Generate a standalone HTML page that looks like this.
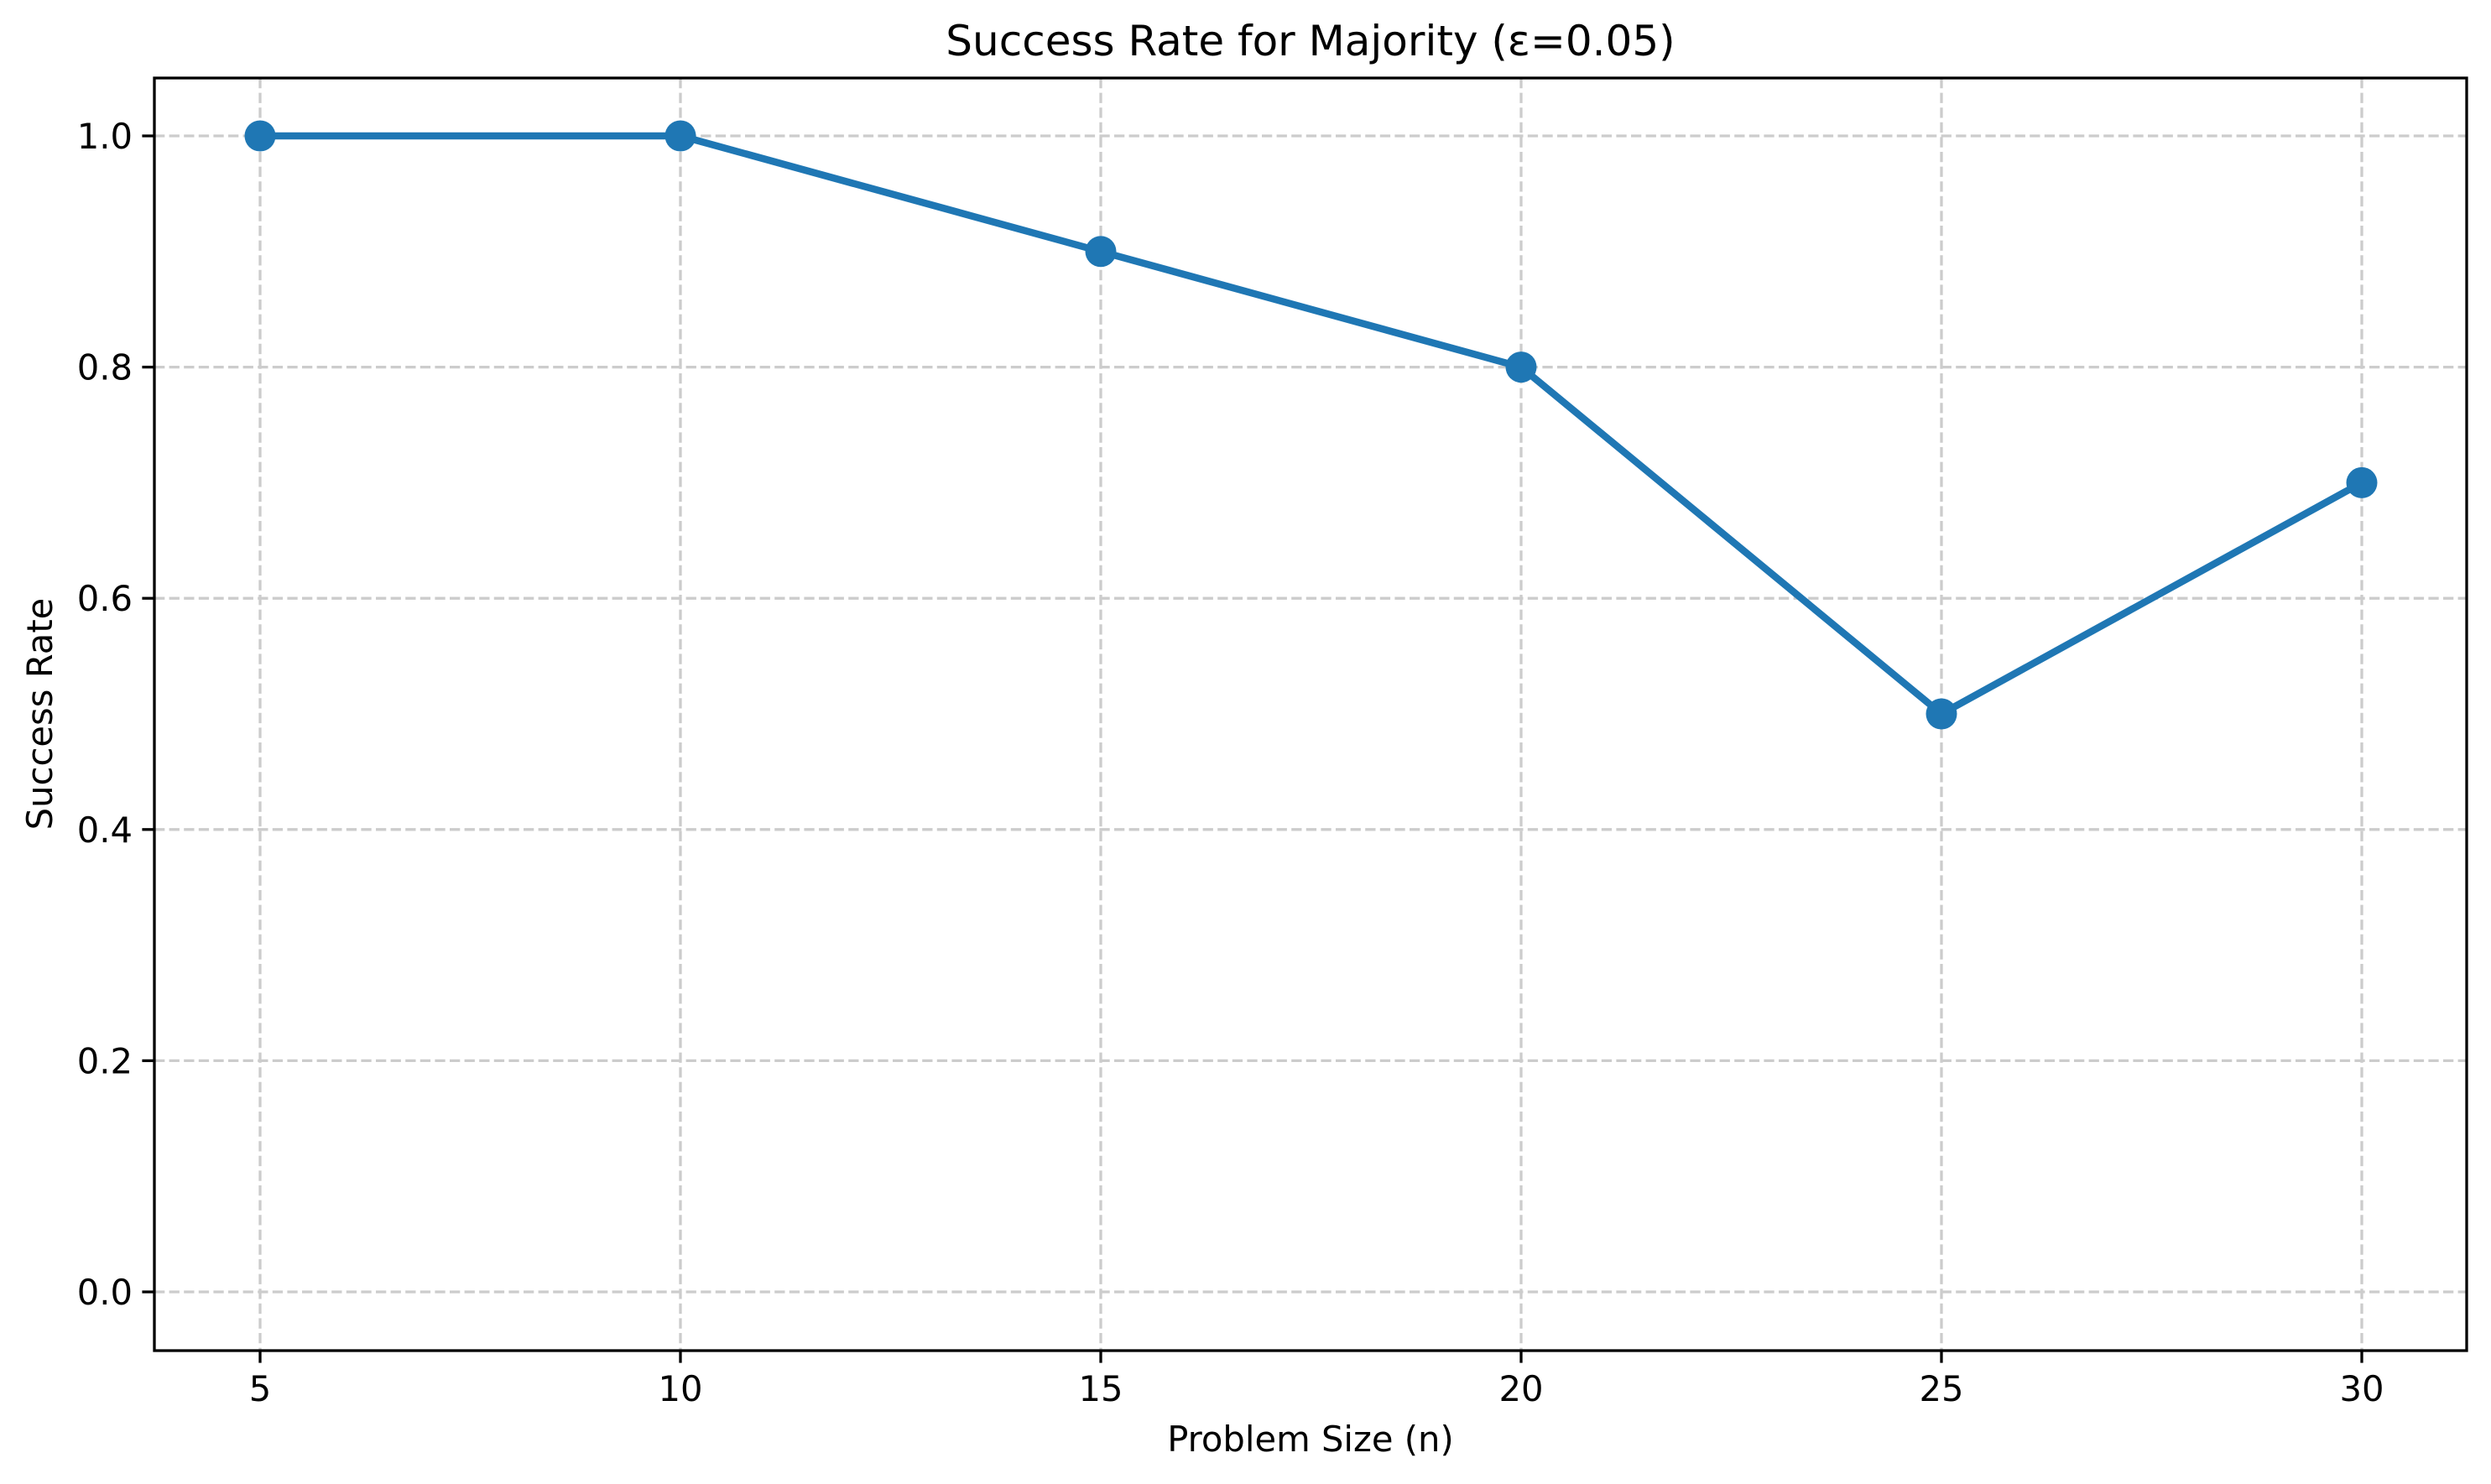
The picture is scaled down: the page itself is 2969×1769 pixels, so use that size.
<!DOCTYPE html>
<html><head><meta charset="utf-8"><style>
html,body{margin:0;padding:0;background:#fff;}
svg{display:block;font-family:"DejaVu Sans","Liberation Sans",sans-serif;}
</style></head><body>
<svg id="chart" width="2969" height="1769" viewBox="0 0 2969 1769">
<rect x="0" y="0" width="2969" height="1769" fill="#fff"/>
<g id="grid"></g>
<g id="series"></g>
<g id="axes"></g>
<text x="1562" y="66" font-size="50" text-anchor="middle">Success Rate for Majority (ε=0.05)</text>
<text x="1562" y="1730" font-size="41.7" text-anchor="middle">Problem Size (n)</text>
<text x="0" y="0" font-size="41.7" text-anchor="middle" transform="translate(62,851) rotate(-90)">Success Rate</text>
</svg>
<script>
const categories = [5, 10, 15, 20, 25, 30];
const successRates = [1.0, 1.0, 0.9, 0.8, 0.5, 0.7];
const xTicks = [5, 10, 15, 20, 25, 30];
const yTicks = [0.0, 0.2, 0.4, 0.6, 0.8, 1.0];
const yTickLabels = ["0.0", "0.2", "0.4", "0.6", "0.8", "1.0"];

const L = 184, R = 2940, T = 93, B = 1610;
function xs(v){ return 310 + (v - 5) * (2815 - 310) / 25; }
function ys(v){ return 1540 - v * (1540 - 162); }
const NS = "http://www.w3.org/2000/svg";
function mk(tag, attrs, parent){
  const e = document.createElementNS(NS, tag);
  for (const k in attrs) e.setAttribute(k, attrs[k]);
  parent.appendChild(e);
  return e;
}
const grid = document.getElementById('grid');
const series = document.getElementById('series');
const axes = document.getElementById('axes');

xTicks.forEach(function(t){
  const x = xs(t);
  const g = mk('line', {x1:x, x2:x, y1:T, y2:B, stroke:'#cccccc', 'stroke-width':3.3, 'stroke-dasharray':'12.3 5.3'}, grid);
  
  
  const tk = mk('line', {x1:x, x2:x, y1:B, y2:B+14.6, stroke:'#000', 'stroke-width':3.3}, axes);
  
  
  const lb = mk('text', {x:x, y:1670, 'font-size':41.7, 'text-anchor':'middle'}, axes);
  lb.textContent = String(t);
  
  
});
yTicks.forEach(function(t, i){
  const y = ys(t);
  const g = mk('line', {x1:L, x2:R, y1:y, y2:y, stroke:'#cccccc', 'stroke-width':3.3, 'stroke-dasharray':'12.3 5.3'}, grid);
  
  
  const tk = mk('line', {x1:L-14.6, x2:L, y1:y, y2:y, stroke:'#000', 'stroke-width':3.3}, axes);
  
  
  const lb = mk('text', {x:L-26, y:y+15, 'font-size':41.7, 'text-anchor':'end'}, axes);
  lb.textContent = yTickLabels[i];
  
  
});
const frame = mk('rect', {x:L, y:T, width:R-L, height:B-T, fill:'none', stroke:'#000', 'stroke-width':3.3}, axes);



const pts = categories.map(function(c, i){ return xs(c) + ',' + ys(successRates[i]); }).join(' ');
const line = mk('polyline', {points:pts, fill:'none', stroke:'#1f77b4', 'stroke-width':8.5, 'stroke-linejoin':'round'}, series);


categories.forEach(function(c, i){
  const p = mk('circle', {cx:xs(c), cy:ys(successRates[i]), r:18.5, fill:'#1f77b4'}, series);
  
  
});
</script>
</body></html>
